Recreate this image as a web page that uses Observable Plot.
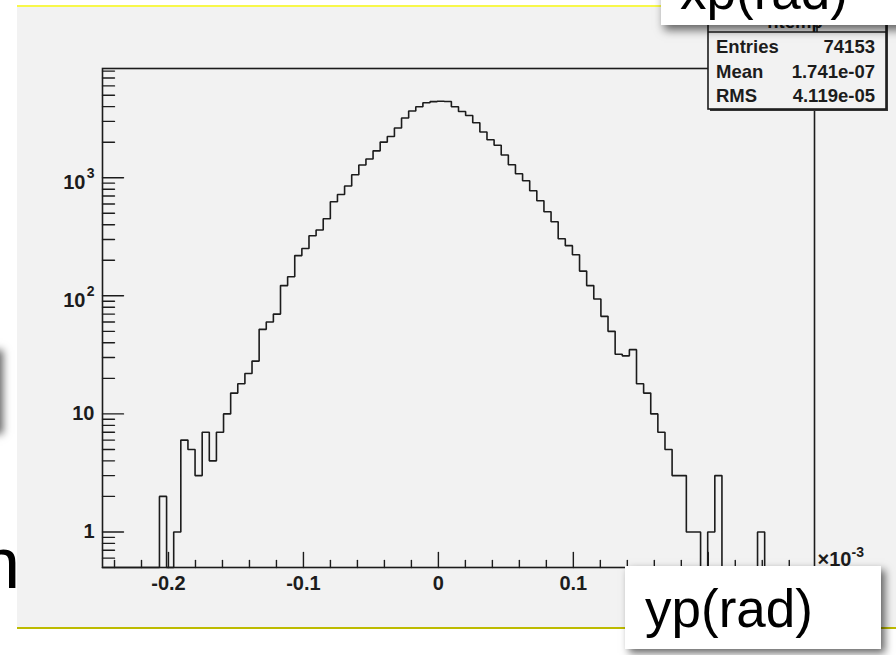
<!DOCTYPE html>
<html>
<head>
<meta charset="utf-8">
<script src="https://cdn.jsdelivr.net/npm/d3@7"></script>
<script src="https://cdn.jsdelivr.net/npm/@observablehq/plot@0.6"></script>
<style>
  html, body { margin: 0; padding: 0; background: #fff; }
  #wrap { position: relative; width: 896px; height: 655px; overflow: hidden; background: #fff;
          font-family: "Liberation Sans", Arial, Helvetica, sans-serif; }
  #panel { position: absolute; left: 17px; top: 5px; width: 890px; height: 624px; background: #f2f2f2;
           border-top: 2px solid #f8f84a; border-bottom: 2px solid #bdbb00; box-sizing: border-box; }
  #chart { position: absolute; left: 0; top: 0; }
  #stats { position: absolute; left: 0; top: 0; }
  .box { position: absolute; background: #fff; box-shadow: 4px 4px 8px rgba(0,0,0,0.6); }
  .box svg { position: absolute; left: 0; top: 0; overflow: visible; }
</style>
</head>
<body>
<div id="wrap">
  <div id="panel"></div>
  <div id="chart"></div>
  <svg id="stats" width="896" height="655"></svg>
  <div class="box" id="leftbox" style="left:-200px; top:346px; width:199px; height:84px;"></div>
  <div class="box" id="xpbox" style="left:661px; top:-40px; width:260px; height:65px; box-shadow: 3px 5px 9px rgba(0,0,0,0.6);"></div>
  <div class="box" id="ypbox" style="left:625px; top:566px; width:256px; height:83px;"></div>
  <svg id="cutsvg" width="60" height="655" style="position:absolute;left:0;top:0;overflow:visible">
    <text x="-20" y="588" font-family="Liberation Sans, Arial, sans-serif" font-size="72" fill="#000">n</text>
  </svg>
</div>
<script>
// ---------- data ----------
const xMin = -0.2489;
const xMax = 0.2787;
const nBins = 100;
const counts = [
  0, 0, 0, 0, 0, 0, 0, 0,
  2, 0, 1, 6, 5, 3, 7, 4, 7, 10, 15, 18, 22, 28, 52, 60,
  70, 122, 145, 219, 252, 323, 361, 450, 626, 722, 851, 1060, 1281, 1440,
  1690, 2005, 2238, 2636, 3206, 3673, 3993, 4316, 4410, 4440, 4420, 3990, 3640, 3370, 2923, 2438, 2099, 1885,
  1557, 1289, 1081, 944, 776, 639, 515, 424, 304, 266, 223, 162, 122, 94,
  67, 50, 32, 31, 35, 18, 15, 10, 7, 5, 3, 3, 1, 1,
  0, 1, 3, 0, 0, 0, 0, 0, 1, 0, 0, 0, 0, 0, 0, 0
];
const yMin = 0.5;
const yMax = 8420;
const yMajor = [1, 10, 100, 1000];
const yMajorBase = ["1", "10", "10", "10"];
const yMajorSup = ["", "", "2", "3"];
const xMajor = [-0.2, -0.1, 0, 0.1, 0.2];
const xMajorLabels = ["-0.2", "-0.1", "0", "0.1", "0.2"];
const xMinorStep = 0.02;
const statLabels = ["Entries", "Mean", "RMS"];
const statValues = ["74153", "1.741e-07", "4.119e-05"];
const histTitle = "htemp";
const xTitle = "xp(rad)";
const yTitle = "yp(rad)";
const exponentBase = "\u00D710";
const exponentPower = "-3";

// ---------- derived tables ----------
const edges = d3.range(nBins + 1).map(i => xMin + i * (xMax - xMin) / nBins);
const steps = counts.flatMap((c, i) => [
  {x: edges[i], y: Math.max(c, yMin)},
  {x: edges[i + 1], y: Math.max(c, yMin)}
]);
const yMinor = [-1, 0, 1, 2, 3]
  .flatMap(e => d3.range(2, 10).map(m => +(m * Math.pow(10, e)).toPrecision(6)))
  .filter(v => v > yMin && v < yMax);
const xMinor = d3.range(-12, 14).map(k => +(k * xMinorStep).toFixed(4))
  .filter(v => v > xMin && v < xMax && !xMajor.some(m => Math.abs(m - v) < 1e-9));
const yPlain = yMajor.filter((d, i) => !yMajorSup[i]);
const yPow = yMajor.filter((d, i) => yMajorSup[i]);
const labelOf = v => yMajorBase[yMajor.indexOf(v)];
const supOf = v => yMajorSup[yMajor.indexOf(v)];

const tickShape = { draw(context, l) { context.moveTo(0, 0); context.lineTo(0, -l); } };
const ink = "#1c1c1c";
const font = "'Liberation Sans', Arial, Helvetica, sans-serif";

const chart = Plot.plot({
  width: 896,
  height: 655,
  marginLeft: 102,
  marginRight: 82,
  marginTop: 68,
  marginBottom: 88,
  style: { background: "transparent", fontFamily: font, color: ink, overflow: "visible" },
  x: { domain: [xMin, xMax], axis: null },
  y: { type: "log", domain: [yMin, yMax], axis: null },
  marks: [
    Plot.line(steps, { x: "x", y: "y", stroke: ink, strokeWidth: 1.6, strokeLinejoin: "miter" }),
    Plot.frame({ stroke: ink, strokeWidth: 1.6 }),
    Plot.vector(yMinor, { y: d => d, frameAnchor: "left", rotate: 90, length: 12, anchor: "start", shape: tickShape, stroke: ink, strokeWidth: 1.4 }),
    Plot.vector(yMajor, { y: d => d, frameAnchor: "left", rotate: 90, length: 21, anchor: "start", shape: tickShape, stroke: ink, strokeWidth: 1.4 }),
    Plot.vector(xMinor, { x: d => d, frameAnchor: "bottom", rotate: 0, length: 7, anchor: "start", shape: tickShape, stroke: ink, strokeWidth: 1.4 }),
    Plot.vector(xMajor, { x: d => d, frameAnchor: "bottom", rotate: 0, length: 15, anchor: "start", shape: tickShape, stroke: ink, strokeWidth: 1.4 }),
    Plot.text(yPlain, { y: d => d, text: labelOf, frameAnchor: "left", textAnchor: "end", dx: -8, fontSize: 20, fontWeight: "bold", fill: ink }),
    Plot.text(yPow, { y: d => d, text: labelOf, frameAnchor: "left", textAnchor: "end", dx: -17, dy: 5, fontSize: 20, fontWeight: "bold", fill: ink }),
    Plot.text(yPow, { y: d => d, text: supOf, frameAnchor: "left", textAnchor: "end", dx: -8, dy: -4, fontSize: 14, fontWeight: "bold", fill: ink }),
    Plot.text(xMajor, { x: d => d, text: (d, i) => xMajorLabels[i], frameAnchor: "bottom", lineAnchor: "top", dy: 8, fontSize: 20, fontWeight: "bold", fill: ink }),
    Plot.text([exponentBase], { text: d => d, frameAnchor: "bottom-right", textAnchor: "start", lineAnchor: "bottom", dx: 3, dy: -2, fontSize: 20, fontWeight: "bold", fill: ink }),
    Plot.text([exponentPower], { text: d => d, frameAnchor: "bottom-right", textAnchor: "start", lineAnchor: "bottom", dx: 37, dy: -11, fontSize: 14, fontWeight: "bold", fill: ink })
  ]
});
document.getElementById("chart").appendChild(chart);

// ---------- stats box ----------
const s = d3.select("#stats");
s.append("rect").attr("x", 710).attr("y", -10).attr("width", 178).attr("height", 121).attr("fill", "#333");
s.append("rect").attr("x", 708).attr("y", -10).attr("width", 178).attr("height", 119)
  .attr("fill", "#f2f2f2").attr("stroke", ink).attr("stroke-width", 1.6);
s.append("line").attr("x1", 708).attr("x2", 886).attr("y1", 32).attr("y2", 32).attr("stroke", ink).attr("stroke-width", 1.6);
s.append("line").attr("x1", 817).attr("x2", 817).attr("y1", -10).attr("y2", 32).attr("stroke", ink).attr("stroke-width", 1.6);
s.append("text").attr("x", 795).attr("y", 28).attr("text-anchor", "middle")
  .attr("font-family", font).attr("font-weight", "bold").attr("font-size", 18.5).attr("fill", ink).text(histTitle);
const rowY = [53, 78, 102];
statLabels.forEach((lab, i) => {
  s.append("text").attr("x", 716).attr("y", rowY[i]).attr("font-family", font).attr("font-weight", "bold")
    .attr("font-size", 18.5).attr("fill", ink).text(lab);
  s.append("text").attr("x", 875).attr("y", rowY[i]).attr("text-anchor", "end").attr("font-family", font)
    .attr("font-weight", "bold").attr("font-size", 18.5).attr("fill", ink).text(statValues[i]);
});

// ---------- overlay title boxes ----------
function boxText(id, txt, x, y) {
  const box = d3.select("#" + id).append("svg").attr("width", 260).attr("height", 90);
  box.append("text").attr("x", x).attr("y", y).attr("font-family", font).attr("font-size", 53)
    .attr("fill", "#000").text(txt);
}
boxText("xpbox", xTitle, 19, 49);
boxText("ypbox", yTitle, 20, 61);
</script>
</body>
</html>
